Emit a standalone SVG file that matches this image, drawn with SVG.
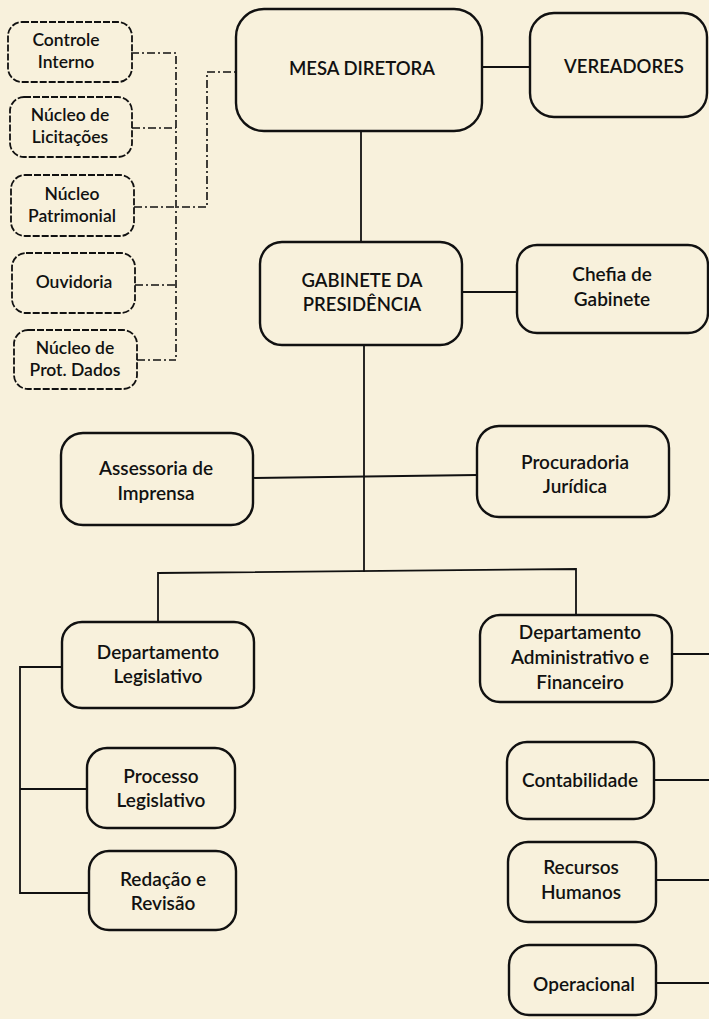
<svg xmlns="http://www.w3.org/2000/svg" width="709" height="1019" viewBox="0 0 709 1019">
<style>
.bg{fill:#f8f1dc}
.box{fill:none;stroke:#111;stroke-width:2.4}
.dbox{fill:none;stroke:#111;stroke-width:1.8;stroke-dasharray:7 2}
.ln{fill:none;stroke:#111;stroke-width:1.8}
.dl{fill:none;stroke:#111;stroke-width:1.6;stroke-dasharray:8 3 2 3}
text{font-family:Lato,"Open Sans",sans-serif;font-weight:600;fill:#111;text-anchor:middle;font-size:19px}
.big{font-size:18.5px}
.sm{font-size:17.5px}
</style>
<rect class="bg" x="0" y="0" width="709" height="1019"/>
<g id="connectors">
<path class="dl" d="M131 53H176V360"/>
<path class="dl" d="M132 128H176"/>
<path class="dl" d="M134 207H207V72H236"/>
<path class="dl" d="M135 285H176"/>
<path class="dl" d="M137 360H176"/>
<path class="ln" d="M482 67H530"/>
<path class="ln" d="M361 131V242"/>
<path class="ln" d="M462 292H517"/>
<path class="ln" d="M364 345V572"/>
<path class="ln" d="M253 478L477 475"/>
<path class="ln" d="M158 622V573L576 569V614"/>
<path class="ln" d="M672 654H709"/>
<path class="ln" d="M62 667H20V893H89"/>
<path class="ln" d="M20 789H87"/>
<path class="ln" d="M654 780H709"/>
<path class="ln" d="M656 880H709"/>
<path class="ln" d="M656 983H709"/>
</g>
<g id="controle-interno"><rect class="dbox" x="8" y="22" width="124" height="60" rx="14"/><text class="sm" x="66" y="46">Controle</text><text class="sm" x="66" y="68">Interno</text></g>
<g id="nucleo-licitacoes"><rect class="dbox" x="10" y="97" width="122" height="60" rx="14"/><text class="sm" x="70" y="121">Núcleo de</text><text class="sm" x="70" y="143">Licitações</text></g>
<g id="nucleo-patrimonial"><rect class="dbox" x="11" y="175" width="123" height="61" rx="14"/><text class="sm" x="72" y="200">Núcleo</text><text class="sm" x="72" y="222">Patrimonial</text></g>
<g id="ouvidoria"><rect class="dbox" x="12" y="253" width="123" height="60" rx="14"/><text class="sm" x="74" y="288">Ouvidoria</text></g>
<g id="nucleo-prot-dados"><rect class="dbox" x="14" y="330" width="123" height="59" rx="14"/><text class="sm" x="75" y="354">Núcleo de</text><text class="sm" x="75" y="376">Prot. Dados</text></g>
<g id="mesa-diretora"><rect class="box" x="236" y="9" width="246" height="122" rx="28"/><text class="big" x="362" y="75">MESA DIRETORA</text></g>
<g id="vereadores"><rect class="box" x="530" y="13" width="177" height="104" rx="24"/><text class="big" x="624" y="73">VEREADORES</text></g>
<g id="gabinete-presidencia"><rect class="box" x="260" y="242" width="202" height="103" rx="22"/><text class="big" x="362" y="287">GABINETE DA</text><text class="big" x="362" y="311">PRESIDÊNCIA</text></g>
<g id="chefia-gabinete"><rect class="box" x="517" y="245" width="191" height="88" rx="20"/><text x="612" y="281">Chefia de</text><text x="612" y="306">Gabinete</text></g>
<g id="assessoria-imprensa"><rect class="box" x="61" y="433" width="192" height="92" rx="22"/><text x="156" y="475">Assessoria de</text><text x="156" y="500">Imprensa</text></g>
<g id="procuradoria-juridica"><rect class="box" x="477" y="426" width="192" height="91" rx="22"/><text x="575" y="469">Procuradoria</text><text x="575" y="493">Jurídica</text></g>
<g id="dept-legislativo"><rect class="box" x="62" y="622" width="192" height="86" rx="20"/><text x="158" y="659">Departamento</text><text x="158" y="683">Legislativo</text></g>
<g id="dept-administrativo"><rect class="box" x="480" y="615" width="192" height="87" rx="20"/><text x="580" y="639">Departamento</text><text x="580" y="664">Administrativo e</text><text x="580" y="689">Financeiro</text></g>
<g id="processo-legislativo"><rect class="box" x="87" y="748" width="148" height="80" rx="20"/><text x="161" y="783">Processo</text><text x="161" y="807">Legislativo</text></g>
<g id="redacao-revisao"><rect class="box" x="89" y="851" width="147" height="79" rx="20"/><text x="163" y="886">Redação e</text><text x="163" y="910">Revisão</text></g>
<g id="contabilidade"><rect class="box" x="507" y="742" width="147" height="77" rx="20"/><text x="580" y="787">Contabilidade</text></g>
<g id="recursos-humanos"><rect class="box" x="508" y="842" width="148" height="80" rx="20"/><text x="581" y="874">Recursos</text><text x="581" y="899">Humanos</text></g>
<g id="operacional"><rect class="box" x="509" y="945" width="147" height="70" rx="20"/><text x="584" y="991">Operacional</text></g>
</svg>
